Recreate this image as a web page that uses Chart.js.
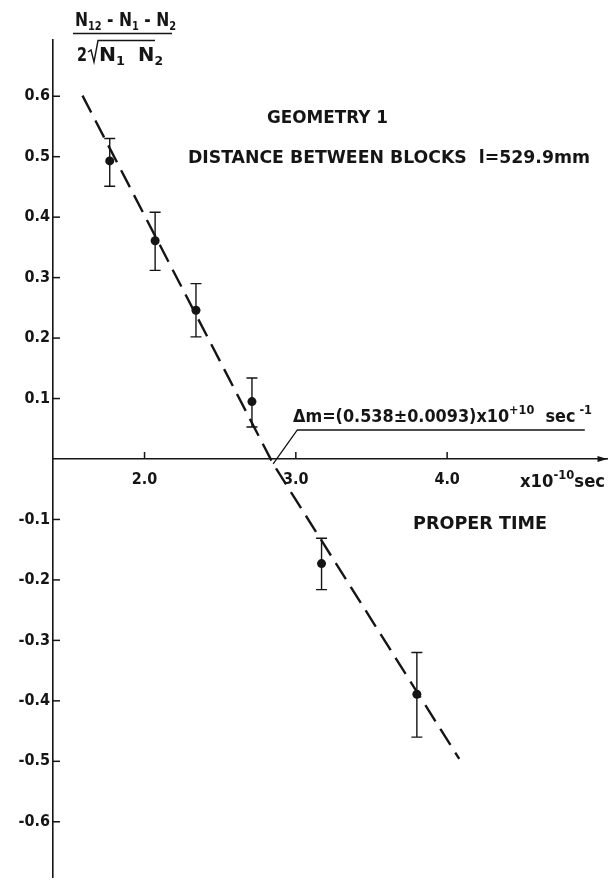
<!DOCTYPE html>
<html>
<head>
<meta charset="utf-8">
<script src="https://cdn.jsdelivr.net/npm/chart.js@4.4.0/dist/chart.umd.min.js"></script>
<style>
html, body { margin: 0; padding: 0; background: #fff; }
#wrap { position: relative; width: 612px; height: 890px; }
</style>
</head>
<body>
<div id="wrap"><canvas id="myChart" width="612" height="890"></canvas></div>
<script>
// measured points: proper time (x10^-10 sec) and asymmetry
const properTime = [1.77, 2.07, 2.34, 2.71, 3.17, 3.80];
const asymmetry = [0.493, 0.361, 0.246, 0.095, -0.173, -0.389];
const errHigh = [0.530, 0.408, 0.290, 0.134, -0.131, -0.320];
const errLow = [0.451, 0.312, 0.202, 0.053, -0.216, -0.460];

// dashed fit and the leader line going to the delta-m label
const fitX = [1.59, 2.85, 4.08];
const fitY = [0.601, -0.008, -0.496];
const leaderX = [2.85, 3.01, 4.91];
const leaderY = [-0.008, 0.048, 0.048];

const xTicks = [2, 3, 4];
const xTickLabels = ['2.0', '3.0', '4.0'];
const yTicks = [0.6, 0.5, 0.4, 0.3, 0.2, 0.1, -0.1, -0.2, -0.3, -0.4, -0.5, -0.6];
const yTickLabels = ['0.6', '0.5', '0.4', '0.3', '0.2', '0.1', '-0.1', '-0.2', '-0.3', '-0.4', '-0.5', '-0.6'];

const INK = '#151515';
const FONT = '"DejaVu Sans Condensed", "Liberation Sans Narrow", "DejaVu Sans", sans-serif';

function toXY(xs, ys) {
    return xs.map((x, i) => ({x: x, y: ys[i]}));
}

// draws a row of text pieces, squeezed/stretched to a given width
function drawRuns(ctx, x, y, runs, width) {
    let total = 0;
    runs.forEach(r => {
        ctx.font = r.font;
        r.w = ctx.measureText(r.t).width;
        total += r.w;
    });
    const sx = width ? width / total : 1;
    ctx.save();
    ctx.translate(x, y);
    ctx.scale(sx, 1);
    let cx = 0;
    runs.forEach(r => {
        ctx.font = r.font;
        ctx.fillText(r.t, cx, r.dy || 0);
        cx += r.w;
    });
    ctx.restore();
}

const big = 'bold 19px ' + FONT;
const mid = 'bold 17px ' + FONT;
const small = 'bold 12px ' + FONT;

const extras = {
    id: 'extras',
    afterDatasetsDraw(chart) {
        const ctx = chart.ctx;
        const xs = chart.scales.x, ys = chart.scales.y;
        const y0 = ys.getPixelForValue(0);
        ctx.save();
        ctx.strokeStyle = INK;
        ctx.fillStyle = INK;
        ctx.textBaseline = 'alphabetic';

        // error bars
        ctx.lineWidth = 1.4;
        properTime.forEach((t, i) => {
            const px = xs.getPixelForValue(t);
            const top = ys.getPixelForValue(errHigh[i]);
            const bot = ys.getPixelForValue(errLow[i]);
            ctx.beginPath();
            ctx.moveTo(px, top); ctx.lineTo(px, bot);
            ctx.moveTo(px - 5.5, top); ctx.lineTo(px + 5.5, top);
            ctx.moveTo(px - 5.5, bot); ctx.lineTo(px + 5.5, bot);
            ctx.stroke();
        });

        // inward tick marks
        ctx.lineWidth = 1.5;
        const left = chart.chartArea.left;
        yTicks.forEach(v => {
            const py = ys.getPixelForValue(v);
            ctx.beginPath(); ctx.moveTo(left, py); ctx.lineTo(left + 7, py); ctx.stroke();
        });
        xTicks.forEach(v => {
            const px = xs.getPixelForValue(v);
            ctx.beginPath(); ctx.moveTo(px, y0); ctx.lineTo(px, y0 - 7); ctx.stroke();
        });

        // arrow at the end of the time axis
        const right = chart.chartArea.right;
        ctx.beginPath();
        ctx.moveTo(right, y0);
        ctx.lineTo(right - 10, y0 - 3);
        ctx.lineTo(right - 10, y0 + 3);
        ctx.closePath();
        ctx.fill();

        // y axis title as a fraction
        drawRuns(ctx, 75, 26, [
            {t: 'N', font: big}, {t: '12', font: small, dy: 4},
            {t: ' - ', font: big}, {t: 'N', font: big}, {t: '1', font: small, dy: 4},
            {t: ' - ', font: big}, {t: 'N', font: big}, {t: '2', font: small, dy: 4}
        ], 101);
        ctx.lineWidth = 1.5;
        ctx.beginPath(); ctx.moveTo(73, 33.5); ctx.lineTo(172, 33.5); ctx.stroke();
        drawRuns(ctx, 77, 61, [{t: '2', font: big}], 10);
        ctx.lineWidth = 1.4;
        ctx.beginPath();
        ctx.moveTo(88, 52); ctx.lineTo(91, 50); ctx.lineTo(94, 62); ctx.lineTo(98, 40.5); ctx.lineTo(155, 40.5);
        ctx.stroke();
        drawRuns(ctx, 99, 61, [{t: 'N', font: big}, {t: '1', font: small, dy: 4}], 26);
        drawRuns(ctx, 138, 61, [{t: 'N', font: big}, {t: '2', font: small, dy: 4}], 25);

        // annotations
        drawRuns(ctx, 267, 123, [{t: 'GEOMETRY 1', font: mid}], 121);
        drawRuns(ctx, 188, 163, [{t: 'DISTANCE BETWEEN BLOCKS  l=529.9mm', font: mid}], 402);
        drawRuns(ctx, 413, 529, [{t: 'PROPER TIME', font: mid}], 134);
        drawRuns(ctx, 293, 422, [
            {t: '\u0394m=(0.538\u00b10.0093)x10', font: mid},
            {t: '+10', font: small, dy: -8},
            {t: '  sec', font: mid},
            {t: ' -1', font: small, dy: -8}
        ], 299);
        drawRuns(ctx, 520, 487, [
            {t: 'x10', font: mid}, {t: '-10', font: small, dy: -8}, {t: 'sec', font: mid}
        ], 85);
        ctx.restore();
    }
};

const ctx = document.getElementById('myChart');
const myChart = new Chart(ctx, {
    type: 'scatter',
    data: {
        datasets: [{
            label: 'fit',
            data: toXY(fitX, fitY),
            showLine: true,
            borderColor: INK,
            borderWidth: 2.4,
            borderDash: [19, 9],
            pointRadius: 0,
            fill: false
        }, {
            label: 'leader',
            data: toXY(leaderX, leaderY),
            showLine: true,
            borderColor: INK,
            borderWidth: 1.3,
            pointRadius: 0,
            fill: false
        }, {
            label: 'measured',
            data: toXY(properTime, asymmetry),
            showLine: false,
            pointRadius: 4.5,
            pointBackgroundColor: INK,
            pointBorderColor: INK,
            pointBorderWidth: 0
        }]
    },
    options: {
        responsive: false,
        animation: false,
        devicePixelRatio: 1,
        layout: {padding: {top: 40, right: 2, bottom: 5, left: 0}},
        plugins: {legend: {display: false}, tooltip: {enabled: false}},
        scales: {
            x: {
                type: 'linear',
                min: 1.395,
                max: 5.06,
                position: {y: 0},
                grid: {display: false, drawTicks: false},
                border: {display: true, color: INK, width: 1.6},
                afterBuildTicks: s => { s.ticks = xTicks.map(v => ({value: v})); },
                ticks: {
                    callback: v => xTickLabels[xTicks.indexOf(v)],
                    color: INK,
                    font: {family: FONT, size: 16, weight: 'bold'},
                    padding: 11,
                    maxRotation: 0,
                    autoSkip: false
                }
            },
            y: {
                type: 'linear',
                min: -0.692,
                max: 0.693,
                grid: {display: false, drawTicks: false},
                border: {display: true, color: INK, width: 1.6},
                afterBuildTicks: s => { s.ticks = yTicks.map(v => ({value: v})); },
                afterFit: s => { s.width = 53; },
                ticks: {
                    callback: v => yTickLabels[yTicks.findIndex(t => Math.abs(t - v) < 1e-6)],
                    color: INK,
                    font: {family: FONT, size: 16, weight: 'bold'},
                    padding: 3,
                    autoSkip: false
                }
            }
        }
    },
    plugins: [extras]
});
</script>
</body>
</html>
